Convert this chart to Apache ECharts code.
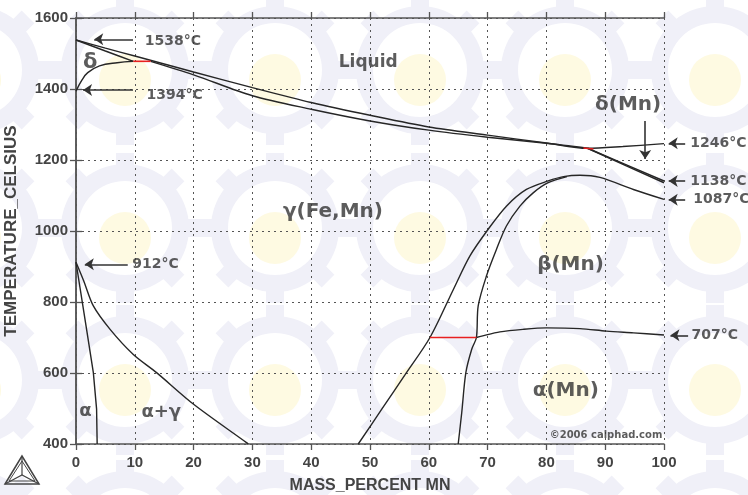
<!DOCTYPE html>
<html>
<head>
<meta charset="utf-8">
<script src="https://cdn.jsdelivr.net/npm/echarts/dist/echarts.min.js"></script>
<style>
  html, body { margin: 0; padding: 0; background: #fff; }
  #chart { width: 748px; height: 495px; }
</style>
</head>
<body>
<div id="chart"></div>
<script>
// axis ticks
const xTicks = { min: 0, max: 100, step: 10 };
const yTicks = { min: 400, max: 1600, step: 200 };

// phase boundaries, [mass% Mn, temperature C]
const liquidus = [[0,1538],[5,1515],[10,1493],[20,1448],[30,1404],[40,1362],[50,1326],[60,1293],[70,1270],[80,1248],[87,1233],[93,1238],[100,1246]];
const deltaSolidus = [[0,1538],[5,1507],[9.75,1478]];
const gammaSolidus = [[12.7,1478],[20,1440],[30,1381],[40,1343],[50,1310],[60,1284],[70,1264],[80,1247],[87,1233]];
const deltaGamma = [[0,1394],[1,1425],[2,1446],[4,1465],[7,1474],[9.75,1478]];
const deltaMnUpper = [[87,1233],[93.5,1187],[100,1141]];
const deltaMnLower = [[87,1233],[93.5,1184],[100,1136]];
const gammaBeta = [[48,400],[52,498],[56,596],[60.2,700],[64.2,836],[67,930],[70.1,1005],[73.2,1070],[76.6,1117],[80.3,1141],[82.9,1153],[85.7,1157],[89.1,1151],[94.8,1117],[100,1089]];
const betaAlpha = [[65,400],[65.6,488],[66.3,601],[67.3,667],[68.1,700],[68.4,789],[69.8,873],[71.5,948],[73.2,1014],[75.5,1070],[77.8,1108],[80.3,1136],[83.5,1153]];
const alphaMn707 = [[68.1,700],[69,704],[72.1,716],[76,723],[80,727],[85.7,725],[90.2,718],[94.8,713],[100,707]];
const alphaBound = [[0,912],[1.8,723],[2.95,601],[3.5,499],[3.6,400]];
const alphaGammaBound = [[0,912],[1.3,860],[2.95,789],[5.8,723],[9.7,653],[13.7,601],[20,512],[29,404],[29.3,400]];
const redTies = [
  [[9.75,1478],[12.7,1478]],
  [[86.3,1234],[88,1231]],
  [[60.2,700],[68.1,700]]
];

// annotation texts: [x, y, text, fontSize, align]
const labels = [
  [11.6,1534,'1538°C',14,'left'],
  [11.9,1382,'1394°C',14,'left'],
  [2.4,1474,'δ',21,'center'],
  [49.7,1474,'Liquid',17,'center'],
  [93.9,1356,'δ(Mn)',20,'center'],
  [104.4,1247,'1246°C',14,'left'],
  [104.4,1141,'1138°C',14,'left'],
  [104.9,1088,'1087°C',14,'left'],
  [43.7,1055,'γ(Fe,Mn)',20,'center'],
  [9.5,905,'912°C',14,'left'],
  [84.1,904,'β(Mn)',20,'center'],
  [104.6,706,'707°C',14,'left'],
  [83.3,549,'α(Mn)',20,'center'],
  [1.6,492,'α',18,'center'],
  [14.5,490,'α+γ',18,'center'],
  [99.8,424,'©2006 calphad.com',10,'right']
];
// arrows: [from, to]
const arrows = [
  [[9.7,1540],[3.1,1540]],
  [[9.7,1397],[1.2,1397]],
  [[8.8,906],[1.5,906]],
  [[96.8,1310],[96.8,1203]],
  [[103.6,1247],[100.8,1247]],
  [[103.6,1141],[100.8,1141]],
  [[103.6,1088],[100.8,1088]],
  [[104.1,706],[101.1,706]]
];

const lineColor = '#262626';
const textColor = '#333';

function boundary(name, data, smooth, color, width) {
  return {
    name: name,
    type: 'line',
    data: data,
    showSymbol: false,
    smooth: smooth,
    clip: false,
    lineStyle: { color: color || lineColor, width: width || 1.4 },
    z: 5
  };
}

// faint tiled logo watermark behind the plot
const wm = [];
const wmCols = [-25, 125, 275, 420, 565, 715];
const wmRows = [70, 228, 380, 535];
wmRows.forEach(cy => {
  wmCols.forEach(cx => {
    wm.push({ type: 'ring', silent: true, z: -10, shape: { cx: cx, cy: cy, r: 64, r0: 47 }, style: { fill: '#f0f0f8' } });
    for (let k = 0; k < 8; k++) {
      wm.push({ type: 'rect', silent: true, z: -10, x: cx, y: cy, rotation: k * Math.PI / 4,
        shape: { x: -9, y: -75, width: 18, height: 14 }, style: { fill: '#f0f0f8' } });
    }
    wm.push({ type: 'circle', silent: true, z: -9, shape: { cx: cx, cy: cy + 10, r: 26 }, style: { fill: '#fefae2' } });
  });
});

// Thermo-Calc style logo, bottom left
const logo = [
  { type: 'polygon', shape: { points: [[22,456],[5,484],[39,484]] }, style: { fill: 'none', stroke: '#444', lineWidth: 1.5 } },
  { type: 'polygon', shape: { points: [[22,461],[9,481],[35,481]] }, style: { fill: 'none', stroke: '#444', lineWidth: 1 } },
  { type: 'polyline', shape: { points: [[22,456],[22,475]] }, style: { stroke: '#444', lineWidth: 1.2 } },
  { type: 'polyline', shape: { points: [[5,484],[22,475],[39,484]] }, style: { stroke: '#444', lineWidth: 1.2 } }
];

const chart = echarts.init(document.getElementById('chart'));

const axisLineStyle = { show: true, lineStyle: { color: '#555', width: 1.5 } };
const axisTick = { show: true, inside: false, length: 6, lineStyle: { color: '#555', width: 1.3 } };
const gridLine = { show: true, lineStyle: { color: '#555', width: 1, type: [2, 4] } };
const tickFont = { color: '#444', fontFamily: 'Liberation Sans', fontWeight: 'bold', fontSize: 15 };

const option = {
  animation: false,
  backgroundColor: '#fff',
  grid: { left: 76, right: 84, top: 18, bottom: 51, outerBoundsMode: 'none', containLabel: false },
  graphic: wm.concat(logo),
  xAxis: [
    {
      type: 'value', min: xTicks.min, max: xTicks.max, interval: xTicks.step,
      name: 'MASS_PERCENT MN', nameLocation: 'middle', nameGap: 34,
      nameTextStyle: { color: '#444', fontFamily: 'Liberation Sans', fontWeight: 'bold', fontSize: 16 },
      axisLine: axisLineStyle, axisTick: axisTick, splitLine: gridLine,
      axisLabel: Object.assign({ margin: 11, formatter: v => String(v) }, tickFont)
    },
    {
      type: 'value', position: 'top', min: xTicks.min, max: xTicks.max, interval: xTicks.step,
      axisLine: axisLineStyle, axisTick: axisTick, splitLine: { show: false }, axisLabel: { show: false }
    }
  ],
  yAxis: [
    {
      type: 'value', min: yTicks.min, max: yTicks.max, interval: yTicks.step,
      name: 'TEMPERATURE_CELSIUS', nameLocation: 'middle', nameGap: 56, nameRotate: 90,
      nameTextStyle: { color: '#444', fontFamily: 'Liberation Sans', fontWeight: 'bold', fontSize: 17 },
      axisLine: axisLineStyle, axisTick: axisTick, splitLine: gridLine,
      axisLabel: Object.assign({ margin: 8, formatter: v => String(v) }, tickFont)
    },
    {
      type: 'value', position: 'right', min: yTicks.min, max: yTicks.max, interval: yTicks.step,
      axisLine: axisLineStyle, axisTick: axisTick, splitLine: { show: false }, axisLabel: { show: false }
    }
  ],
  series: [
    boundary('liquidus', liquidus, 0.3),
    boundary('deltaSolidus', deltaSolidus, 0.3),
    boundary('gammaSolidus', gammaSolidus, 0.3),
    boundary('deltaGamma', deltaGamma, 0.4),
    boundary('deltaMnUpper', deltaMnUpper, false, lineColor, 1.5),
    boundary('deltaMnLower', deltaMnLower, false, lineColor, 1.5),
    boundary('gammaBeta', gammaBeta, 0.3),
    boundary('betaAlpha', betaAlpha, 0.3),
    boundary('alphaMn707', alphaMn707, 0.3),
    boundary('alphaBound', alphaBound, false),
    boundary('alphaGammaBound', alphaGammaBound, 0.3)
  ].concat(redTies.map((d, i) => boundary('tie' + i, d, false, '#e82020', 1.6)))
   .concat([
    {
      name: 'arrows',
      type: 'lines',
      coordinateSystem: 'cartesian2d',
      clip: false,
      symbol: ['none', 'arrow'],
      symbolSize: 9,
      lineStyle: { color: '#333', width: 1.6, opacity: 1 },
      data: arrows.map(a => ({ coords: a })),
      z: 6
    },
    {
      name: 'labels',
      type: 'scatter',
      clip: false,
      symbolSize: 1,
      itemStyle: { color: 'transparent' },
      data: labels.map(l => ({
        value: [l[0], l[1]],
        label: {
          show: true,
          position: l[4] === 'left' ? 'right' : (l[4] === 'right' ? 'left' : 'inside'),
          distance: 0,
          formatter: l[2],
          fontSize: l[3],
          fontFamily: 'DejaVu Sans',
          fontWeight: 'bold',
          color: textColor
        }
      })),
      z: 7
    }
  ])
};

chart.setOption(option);
</script>
</body>
</html>
